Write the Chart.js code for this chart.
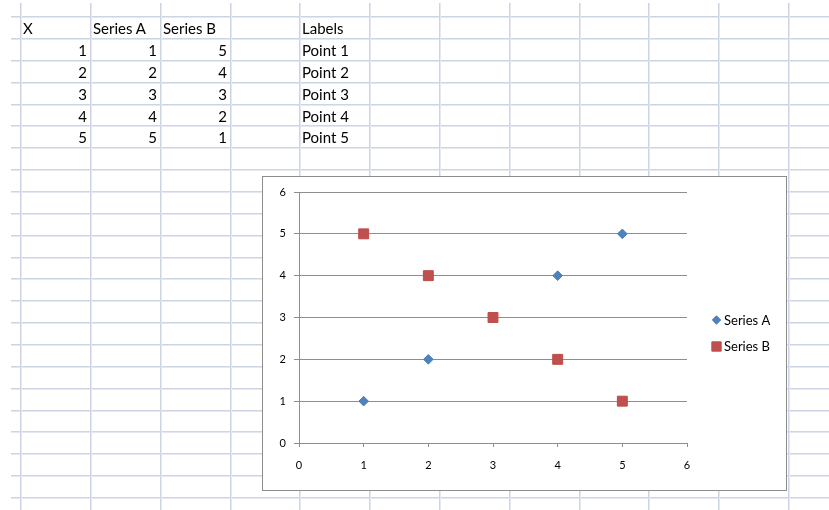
<!DOCTYPE html>
<html>
<head>
<meta charset="utf-8">
<script src="https://cdn.jsdelivr.net/npm/chart.js@4/dist/chart.umd.min.js"></script>
<style>
  html, body { margin: 0; padding: 0; background: #fff; }
  body { width: 829px; height: 510px; position: relative; overflow: hidden; font-family: Lato, "Liberation Sans", sans-serif; }
  #sheet { position: absolute; left: 0; top: 0; }
  .cell { position: absolute; font-size: 15px; line-height: 22px; height: 22px; color: #000; white-space: nowrap; }
  #box { position: absolute; left: 263px; top: 177px; width: 523px; height: 313px; background: #fff; }
  #frame { position: absolute; left: 262px; top: 176px; width: 523px; height: 313px; border: 1px solid #8c8c8c; pointer-events: none; }
</style>
</head>
<body>
<canvas id="sheet" width="829" height="510"></canvas>
<div id="cells"></div>
<div id="box"><canvas id="chart" width="523" height="313"></canvas></div>
<div id="frame"></div>
<script>
// ---- data ----
const headers = ["X", "Series A", "Series B", "", "Labels"];
const xValues = [1, 2, 3, 4, 5];
const seriesA = [1, 2, 3, 4, 5];
const seriesB = [5, 4, 3, 2, 1];
const pointLabels = ["Point 1", "Point 2", "Point 3", "Point 4", "Point 5"];
const seriesNames = ["Series A", "Series B"];
const axisTicks = [0, 1, 2, 3, 4, 5, 6];

// ---- worksheet grid ----
const colEdges = [20, 90, 160, 230, 299, 369, 439, 509, 579, 648, 718, 788];
const rowEdges = [];
for (let k = 0; k < 23; k++) rowEdges.push(Math.round(16.2 + 21.85 * k));

const sg = document.getElementById('sheet').getContext('2d');
function band(x, y, w, h, vertical) {
  sg.fillStyle = '#cdd4e3';
  sg.fillRect(x, y, w, h);
  sg.fillStyle = '#e4e8f0';
  if (vertical) sg.fillRect(x + 1, y, 1, h); else sg.fillRect(x, y + 1, w, 1);
}
rowEdges.forEach(y => band(11, y, 829 - 11, 1, false));
colEdges.forEach(x => band(x, 3, 1, 510 - 3, true));

// ---- worksheet cells ----
const cellsEl = document.getElementById('cells');
function cell(text, col, row, align) {
  const d = document.createElement('div');
  d.className = 'cell';
  const left = colEdges[col], right = colEdges[col + 1];
  d.style.top = (rowEdges[row] + 1) + 'px';
  if (align === 'right') {
    d.style.left = left + 'px';
    d.style.width = (right - left - 3) + 'px';
    d.style.textAlign = 'right';
  } else {
    d.style.left = (left + 3) + 'px';
  }
  d.textContent = text;
  cellsEl.appendChild(d);
}
headers.forEach((h, c) => { if (h) cell(h, c, 0, 'left'); });
xValues.forEach((x, i) => {
  cell(String(x), 0, i + 1, 'right');
  cell(String(seriesA[i]), 1, i + 1, 'right');
  cell(String(seriesB[i]), 2, i + 1, 'right');
  cell(pointLabels[i], 4, i + 1, 'left');
});

// ---- chart ----
const axisGray = '#8e8e8e';
const tickFont = { family: 'Lato', size: 11 };

// Legend drawn beside the plot with each dataset's own marker
const sideLegend = {
  id: 'sideLegend',
  afterDraw(chart) {
    const ctx = chart.ctx;
    const rows = [143, 169.5];
    ctx.save();
    chart.data.datasets.forEach((ds, i) => {
      const y = rows[i];
      ctx.fillStyle = ds.backgroundColor;
      ctx.strokeStyle = ds.borderColor;
      ctx.lineWidth = 1;
      Chart.helpers.drawPoint(ctx, {
        pointStyle: ds.pointStyle,
        radius: ds.pointStyle === 'rect' ? 6.6 : 4.2,
        rotation: 0,
        borderWidth: 1
      }, 453.5, y);
      ctx.fillStyle = '#000';
      ctx.font = '13px Lato';
      ctx.textBaseline = 'middle';
      ctx.textAlign = 'left';
      ctx.fillText(ds.label, 461, y + 0.5);
    });
    ctx.restore();
  }
};

new Chart(document.getElementById('chart'), {
  type: 'scatter',
  data: {
    datasets: [
      {
        label: seriesNames[0],
        data: xValues.map((x, i) => ({ x: x, y: seriesA[i] })),
        order: 1,
        pointStyle: 'rectRot',
        pointRadius: 4.8,
        pointHoverRadius: 4.8,
        backgroundColor: '#4F81BD',
        borderColor: '#4A7DBA',
        borderWidth: 1
      },
      {
        label: seriesNames[1],
        data: xValues.map((x, i) => ({ x: x, y: seriesB[i] })),
        order: 0,
        pointStyle: 'rect',
        pointRadius: 7,
        pointHoverRadius: 7,
        backgroundColor: '#C0504D',
        borderColor: '#BD4B48',
        borderWidth: 1
      }
    ]
  },
  options: {
    responsive: false,
    animation: false,
    layout: { padding: { left: 0, top: 15, right: 99, bottom: 0 } },
    plugins: { legend: { display: false }, tooltip: { enabled: false } },
    scales: {
      x: {
        type: 'linear',
        min: axisTicks[0],
        max: axisTicks[axisTicks.length - 1],
        afterBuildTicks: s => { s.ticks = axisTicks.map(v => ({ value: v })); },
        afterFit: s => { s.height = 47; },
        grid: { display: true, drawOnChartArea: false, drawTicks: true, tickLength: 4, color: axisGray, lineWidth: 1 },
        border: { display: true, color: axisGray, width: 1 },
        ticks: { font: tickFont, color: '#000', padding: 12, maxRotation: 0 }
      },
      y: {
        type: 'linear',
        min: axisTicks[0],
        max: axisTicks[axisTicks.length - 1],
        afterBuildTicks: s => { s.ticks = axisTicks.map(v => ({ value: v })); },
        afterFit: s => { s.width = 36; },
        grid: { display: true, drawOnChartArea: true, drawTicks: true, tickLength: 5, color: axisGray, lineWidth: 1 },
        border: { display: true, color: axisGray, width: 1 },
        ticks: { font: tickFont, color: '#000', padding: 8 }
      }
    }
  },
  plugins: [sideLegend]
});
</script>
</body>
</html>
